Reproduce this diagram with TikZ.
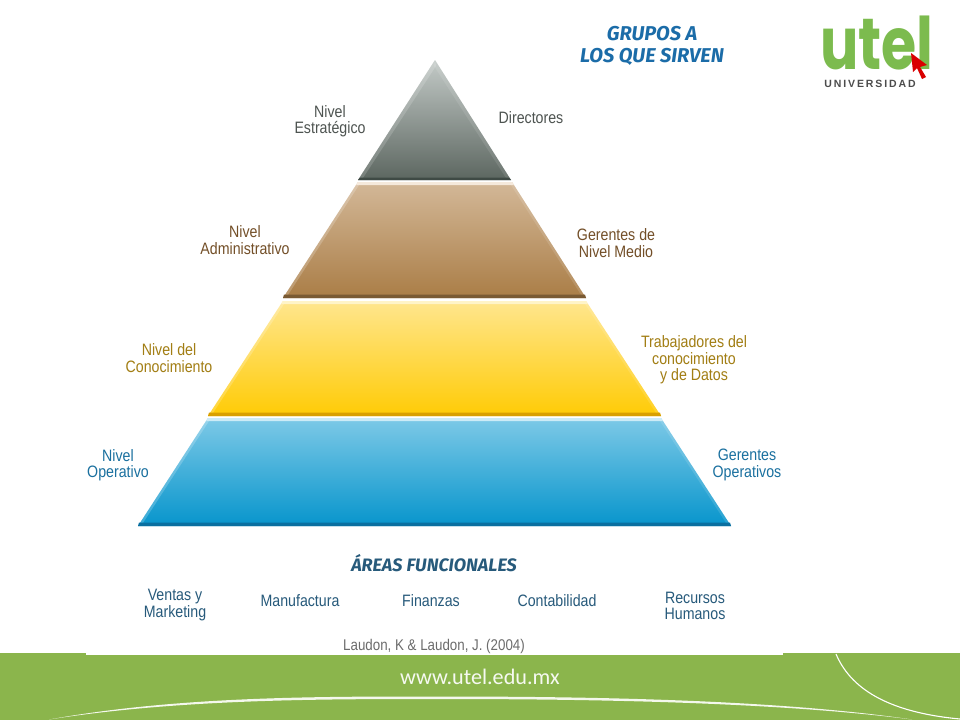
\documentclass[tikz,border=0pt]{standalone}
\usepackage{fontspec}
\setmainfont{Liberation Sans}
\newfontfamily\lblfont[FakeStretch=0.86]{Liberation Sans}
\newfontfamily\headfont{Fira Sans}
\newfontfamily\logofont{Poppins}
\newfontfamily\webfont{Carlito}
\newfontfamily\unifont[LetterSpace=18]{Liberation Sans}
\definecolor{grayT}{HTML}{4E5451}
\definecolor{brownT}{HTML}{734F28}
\definecolor{goldT}{HTML}{A27E14}
\definecolor{blueT}{HTML}{1A709F}
\definecolor{headT}{HTML}{1B6CA8}
\definecolor{areaT}{HTML}{275A7B}
\definecolor{bandG}{HTML}{8BB54C}
\definecolor{logoG}{HTML}{7CBB4E}
\definecolor{aTop}{HTML}{C3CAC7}\definecolor{aBot}{HTML}{5C6660}\definecolor{aEdge}{HTML}{3F4A45}
\definecolor{bTop}{HTML}{D3B898}\definecolor{bBot}{HTML}{AA7D46}\definecolor{bEdge}{HTML}{7A5A33}\definecolor{bLite}{HTML}{F5E9DC}
\definecolor{cTop}{HTML}{FFE68E}\definecolor{cBot}{HTML}{FFCB05}\definecolor{cEdge}{HTML}{D9A000}\definecolor{cLite}{HTML}{FFF4C8}
\definecolor{dTop}{HTML}{7DC9E7}\definecolor{dBot}{HTML}{0795CC}\definecolor{dEdge}{HTML}{0A6FA0}\definecolor{dLite}{HTML}{CDEBF6}
\tikzset{
 lbl/.style={align=center,inner sep=0pt,font=\lblfont\fontsize{16.5}{16.5}\selectfont},
 hd/.style={align=center,inner sep=0pt,font=\headfont\bfseries\itshape\fontsize{18}{21}\selectfont,text=headT},
}
% x1t x2t yt x1b x2b yb top bottom edge
\newcommand{\tier}[9]{%
 \shade[top color=#7,bottom color=#8] (#1,#3) -- (#2,#3) -- (#5,#6) -- (#4,#6) -- cycle;
 \fill[white,opacity=.2] (#1,#3) -- (#1+3,#3) -- (#4+3,#6) -- (#4,#6) -- cycle;
 \fill[white,opacity=.12] (#2,#3) -- (#2-3,#3) -- (#5-3,#6) -- (#5,#6) -- cycle;
 \fill[#9] (#4+1,#6-3.5) -- (#5-1,#6-3.5) -- (#5,#6) -- (#4,#6) -- cycle;
}
\begin{document}
\begin{tikzpicture}[x=1pt,y=-1pt]
\useasboundingbox (0,0) rectangle (960,720);
\fill[white] (0,0) rectangle (960,720);
% green band
\fill[bandG] (0,655) rectangle (960,720);
\fill[bandG] (0,653) rectangle (86,655);
\fill[bandG] (783,653) rectangle (960,655);
\fill[white!90!bandG] (49,719.5) .. controls (180,696) and (320,696.5) .. (440,696.5) .. controls (600,696.5) and (780,700) .. (912,719.5) .. controls (780,702.5) and (600,699) .. (440,699) .. controls (320,699) and (180,699) .. (49,719.5) -- cycle;
\draw[white,line width=1.1pt] (836,654) .. controls (850,687) and (885,712) .. (960,719);
\node[inner sep=0pt,text=white!92!bandG,font=\webfont\fontsize{22.2}{26}\selectfont] (web) at (480,677) {www.utel.edu.mx};
% pyramid
\shade[top color=aTop,bottom color=aBot] (435,60) -- (511,180) -- (358,180) -- cycle;
\fill[white,opacity=.16] (435,60) -- (436,66) -- (363,178) -- (358,180) -- cycle;
\fill[white,opacity=.1] (435,60) -- (434,66) -- (506,178) -- (511,180) -- cycle;
\fill[aEdge] (360,177.5) -- (509,177.5) -- (511,180) -- (358,180) -- cycle;
\tier{358}{512}{182}{283}{586}{298}{bTop}{bBot}{bEdge}
\fill[bLite] (358,182) -- (512,182) -- (514,185) -- (356,185) -- cycle;
\tier{283}{586}{301}{208}{661}{416}{cTop}{cBot}{cEdge}
\fill[cLite] (283,301) -- (586,301) -- (588,304) -- (281,304) -- cycle;
\tier{208}{661}{418}{138}{731}{526}{dTop}{dBot}{dEdge}
\fill[dLite] (208,418) -- (661,418) -- (663,421) -- (206,421) -- cycle;
% labels
\node[lbl,text=grayT] (ne) at (330,121) {Nivel\\Estratégico};
\node[lbl,text=grayT] (dir) at (531,118) {Directores};
\node[lbl,text=brownT] (na) at (245,240) {Nivel\\Administrativo};
\node[lbl,text=brownT] (gm) at (616,243) {Gerentes de\\Nivel Medio};
\node[lbl,text=goldT] (nc) at (169,358) {Nivel del\\Conocimiento};
\node[lbl,text=goldT] (tc) at (694,360) {Trabajadores del\\conocimiento\\y de Datos};
\node[lbl,text=blueT] (no) at (118,465) {Nivel\\Operativo};
\node[lbl,text=blueT] (go) at (747,465) {Gerentes\\Operativos};
% headers
\node[hd,font=\headfont\bfseries\itshape\fontsize{20}{22}\selectfont] (gr) at (652,46) {GRUPOS A\\LOS QUE SIRVEN};
\node[hd,text=areaT] (af) at (434,563) {ÁREAS FUNCIONALES};
% areas
\node[lbl,text=areaT] (a1) at (175,605) {Ventas y\\Marketing};
\node[lbl,text=areaT] (a2) at (300,601) {Manufactura};
\node[lbl,text=areaT] (a3) at (431,601) {Finanzas};
\node[lbl,text=areaT] (a4) at (557,601) {Contabilidad};
\node[lbl,text=areaT] (a5) at (695,606) {Recursos\\Humanos};
\node[lbl,text=gray!85!black,font=\lblfont\fontsize{15.5}{16}\selectfont] (cite) at (434,646) {Laudon, K \& Laudon, J. (2004)};
% logo
\node[inner sep=0pt,yscale=1.27,text=logoG,text height=34pt,text depth=0pt,font=\logofont\bfseries\fontsize{57}{57}\selectfont] (utel) at (877,48) {utel};
\fill[red!85!black] (911,53) -- (927,65) -- (920,67) -- (926,77) -- (922,79) -- (917,68) -- (913,72) -- cycle;
\node[inner sep=0pt,text=gray!60!black,font=\unifont\bfseries\fontsize{10.5}{12}\selectfont] (uni) at (870,84) {UNIVERSIDAD};
\end{tikzpicture}
\end{document}
